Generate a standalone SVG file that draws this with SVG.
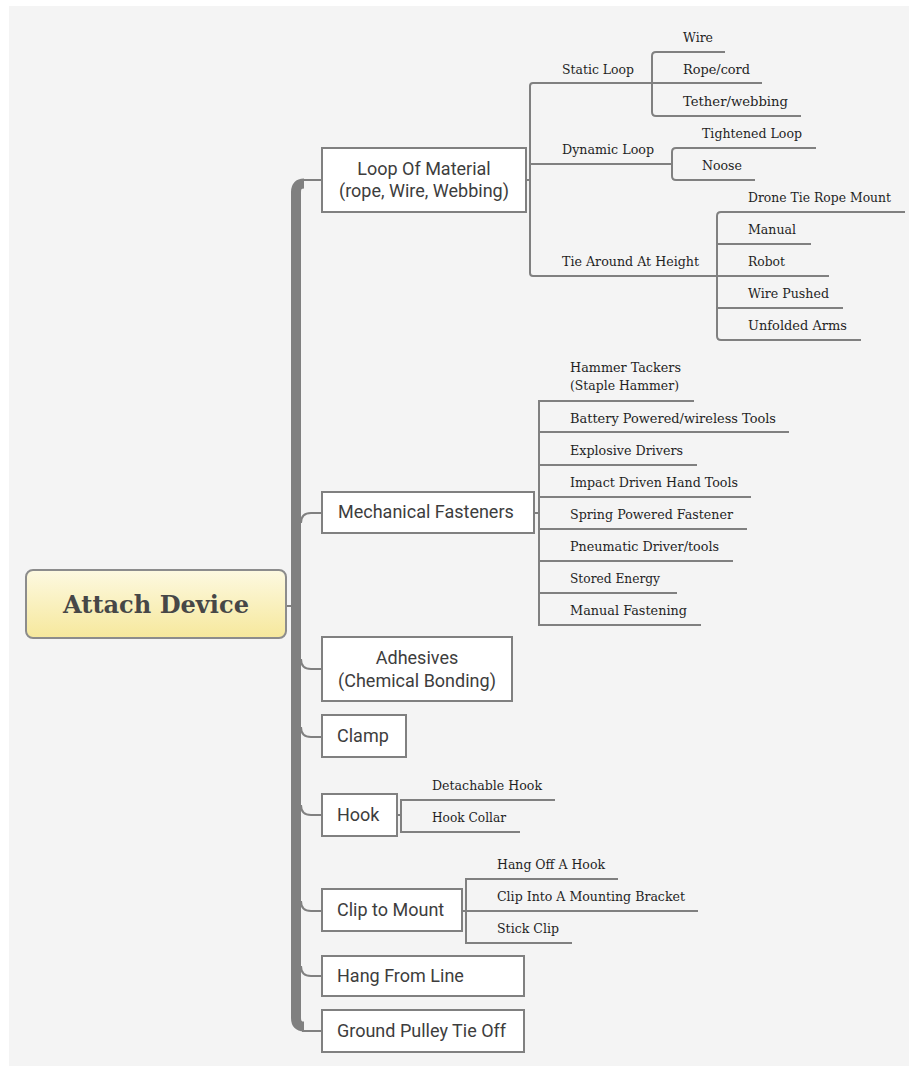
<svg xmlns="http://www.w3.org/2000/svg" width="909" height="1066" viewBox="0 0 909 1066">
  <defs>
    <linearGradient id="rootFill" x1="0" y1="0" x2="0" y2="1">
      <stop offset="0" stop-color="#fdf9e1"/>
      <stop offset="1" stop-color="#f6e89c"/>
    </linearGradient>
    <style>
      .panel { fill: #f4f4f4; }
      .box { fill: #ffffff; stroke: #808080; stroke-width: 2; }
      .root { fill: url(#rootFill); stroke: #8c8c8c; stroke-width: 2; }
      .ln { fill: none; stroke: #808080; stroke-width: 2; }
      .trunk { fill: none; stroke: #808080; stroke-width: 10; }
      .rt { font-family: "DejaVu Serif", "Liberation Serif", serif; font-weight: bold; font-size: 25px; fill: #474747; }
      .bt { font-family: Roboto, "Liberation Sans", sans-serif; font-size: 18px; fill: #3d3d3d; }
      .st { font-family: "DejaVu Serif", "Liberation Serif", serif; font-size: 13.6px; fill: #1f1f1f; }
    </style>
  </defs>

  <!-- canvas -->
  <rect width="909" height="1066" fill="#ffffff"/>
  <rect class="panel" x="9" y="6" width="900" height="1060"/>

  <!-- connectors -->
  <g id="connectors">
    <!-- main trunk -->
    <path class="trunk" d="M304 183.5 Q296 183.5 296 192 V1018 Q296 1026.5 304 1026.5"/>
    <path class="ln" d="M302 180 H322"/>
    <path class="ln" d="M302 1031 H322"/>
    <path class="ln" d="M286 606 H296"/>
    <path class="ln" d="M301 523 Q301 513 311 513 H322"/>
    <path class="ln" d="M301 659 Q301 669 311 669 H322"/>
    <path class="ln" d="M301 727 Q301 737 311 737 H322"/>
    <path class="ln" d="M301 805 Q301 815 311 815 H322"/>
    <path class="ln" d="M301 901 Q301 911 311 911 H322"/>
    <path class="ln" d="M301 966 Q301 976 311 976 H322"/>

    <!-- loop of material -->
    <path class="ln" d="M526 180 H530"/>
    <path class="ln" d="M652 83 H533 Q530 83 530 86 V273 Q530 276 533 276 H717"/>
    <path class="ln" d="M530 164 H672"/>
    <path class="ln" d="M725 52 H656 Q652 52 652 56 V112 Q652 116 656 116 H801"/>
    <path class="ln" d="M652 83 H762"/>
    <path class="ln" d="M816 148 H676 Q672 148 672 152 V176 Q672 180 676 180 H755"/>
    <path class="ln" d="M905 212 H721 Q717 212 717 216 V336 Q717 340 721 340 H861"/>
    <path class="ln" d="M717 244 H811"/>
    <path class="ln" d="M717 276 H829"/>
    <path class="ln" d="M717 308 H843"/>

    <!-- mechanical fasteners -->
    <path class="ln" d="M534 513 H539"/>
    <path class="ln" d="M694 401 H539 V625 H701"/>
    <path class="ln" d="M539 432 H789"/>
    <path class="ln" d="M539 465 H697"/>
    <path class="ln" d="M539 497 H751"/>
    <path class="ln" d="M539 529 H747"/>
    <path class="ln" d="M539 561 H733"/>
    <path class="ln" d="M539 593 H677"/>

    <!-- hook -->
    <path class="ln" d="M397 815 H401"/>
    <path class="ln" d="M555 800 H401 V832 H520"/>

    <!-- clip to mount -->
    <path class="ln" d="M462 911 H466"/>
    <path class="ln" d="M618 879 H466 V943 H572"/>
    <path class="ln" d="M466 911 H698"/>
  </g>

  <!-- root -->
  <g id="attach-device">
    <rect class="root" x="26" y="570" width="260" height="68" rx="7"/>
    <text class="rt" x="156" y="613" text-anchor="middle" textLength="186" lengthAdjust="spacingAndGlyphs">Attach Device</text>
  </g>

  <!-- main branches -->
  <g id="loop-of-material">
    <rect class="box" x="322" y="148" width="204" height="64"/>
    <text class="bt" x="424" y="175" text-anchor="middle">Loop Of Material</text>
    <text class="bt" x="424" y="197" text-anchor="middle">(rope, Wire, Webbing)</text>
  </g>
  <g id="mechanical-fasteners">
    <rect class="box" x="322" y="492" width="212" height="41"/>
    <text class="bt" x="338" y="518">Mechanical Fasteners</text>
  </g>
  <g id="adhesives">
    <rect class="box" x="322" y="637" width="190" height="64"/>
    <text class="bt" x="417" y="664" text-anchor="middle">Adhesives</text>
    <text class="bt" x="417" y="687" text-anchor="middle">(Chemical Bonding)</text>
  </g>
  <g id="clamp">
    <rect class="box" x="322" y="715" width="84" height="42"/>
    <text class="bt" x="337" y="742">Clamp</text>
  </g>
  <g id="hook">
    <rect class="box" x="322" y="794" width="75" height="42"/>
    <text class="bt" x="337" y="821">Hook</text>
  </g>
  <g id="clip-to-mount">
    <rect class="box" x="322" y="889" width="140" height="42"/>
    <text class="bt" x="337" y="916">Clip to Mount</text>
  </g>
  <g id="hang-from-line">
    <rect class="box" x="322" y="956" width="202" height="40"/>
    <text class="bt" x="337" y="982">Hang From Line</text>
  </g>
  <g id="ground-pulley-tie-off">
    <rect class="box" x="322" y="1010" width="202" height="42"/>
    <text class="bt" x="337" y="1037">Ground Pulley Tie Off</text>
  </g>

  <!-- loop of material subtopics -->
  <g id="static-loop"><text class="st" x="562" y="73.5" textLength="72" lengthAdjust="spacingAndGlyphs">Static Loop</text></g>
  <g id="wire"><text class="st" x="683" y="41.5" textLength="30" lengthAdjust="spacingAndGlyphs">Wire</text></g>
  <g id="rope-cord"><text class="st" x="683" y="73.5" textLength="67" lengthAdjust="spacingAndGlyphs">Rope/cord</text></g>
  <g id="tether-webbing"><text class="st" x="683" y="105.5" textLength="105" lengthAdjust="spacingAndGlyphs">Tether/webbing</text></g>
  <g id="dynamic-loop"><text class="st" x="562" y="153.5" textLength="92" lengthAdjust="spacingAndGlyphs">Dynamic Loop</text></g>
  <g id="tightened-loop"><text class="st" x="702" y="138" textLength="100" lengthAdjust="spacingAndGlyphs">Tightened Loop</text></g>
  <g id="noose"><text class="st" x="702" y="170" textLength="40" lengthAdjust="spacingAndGlyphs">Noose</text></g>
  <g id="tie-around-at-height"><text class="st" x="562" y="265.5" textLength="137" lengthAdjust="spacingAndGlyphs">Tie Around At Height</text></g>
  <g id="drone-tie-rope-mount"><text class="st" x="748" y="201.5" textLength="143" lengthAdjust="spacingAndGlyphs">Drone Tie Rope Mount</text></g>
  <g id="manual"><text class="st" x="748" y="233.5" textLength="48" lengthAdjust="spacingAndGlyphs">Manual</text></g>
  <g id="robot"><text class="st" x="748" y="265.5" textLength="37" lengthAdjust="spacingAndGlyphs">Robot</text></g>
  <g id="wire-pushed"><text class="st" x="748" y="297.5" textLength="81" lengthAdjust="spacingAndGlyphs">Wire Pushed</text></g>
  <g id="unfolded-arms"><text class="st" x="748" y="329.5" textLength="99" lengthAdjust="spacingAndGlyphs">Unfolded Arms</text></g>

  <!-- mechanical fastener subtopics -->
  <g id="hammer-tackers">
    <text class="st" x="570" y="371.5" textLength="111" lengthAdjust="spacingAndGlyphs">Hammer Tackers</text>
    <text class="st" x="570" y="389.5" textLength="109" lengthAdjust="spacingAndGlyphs">(Staple Hammer)</text>
  </g>
  <g id="battery-powered"><text class="st" x="570" y="422.5" textLength="206" lengthAdjust="spacingAndGlyphs">Battery Powered/wireless Tools</text></g>
  <g id="explosive-drivers"><text class="st" x="570" y="454.5" textLength="113" lengthAdjust="spacingAndGlyphs">Explosive Drivers</text></g>
  <g id="impact-driven"><text class="st" x="570" y="486.5" textLength="168" lengthAdjust="spacingAndGlyphs">Impact Driven Hand Tools</text></g>
  <g id="spring-powered"><text class="st" x="570" y="518.5" textLength="163" lengthAdjust="spacingAndGlyphs">Spring Powered Fastener</text></g>
  <g id="pneumatic-driver"><text class="st" x="570" y="550.5" textLength="149" lengthAdjust="spacingAndGlyphs">Pneumatic Driver/tools</text></g>
  <g id="stored-energy"><text class="st" x="570" y="582.5" textLength="90" lengthAdjust="spacingAndGlyphs">Stored Energy</text></g>
  <g id="manual-fastening"><text class="st" x="570" y="614.5" textLength="117" lengthAdjust="spacingAndGlyphs">Manual Fastening</text></g>

  <!-- hook subtopics -->
  <g id="detachable-hook"><text class="st" x="432" y="790" textLength="110" lengthAdjust="spacingAndGlyphs">Detachable Hook</text></g>
  <g id="hook-collar"><text class="st" x="432" y="822" textLength="74" lengthAdjust="spacingAndGlyphs">Hook Collar</text></g>

  <!-- clip to mount subtopics -->
  <g id="hang-off-a-hook"><text class="st" x="497" y="869" textLength="108" lengthAdjust="spacingAndGlyphs">Hang Off A Hook</text></g>
  <g id="clip-into-bracket"><text class="st" x="497" y="901" textLength="188" lengthAdjust="spacingAndGlyphs">Clip Into A Mounting Bracket</text></g>
  <g id="stick-clip"><text class="st" x="497" y="933" textLength="62" lengthAdjust="spacingAndGlyphs">Stick Clip</text></g>
</svg>
